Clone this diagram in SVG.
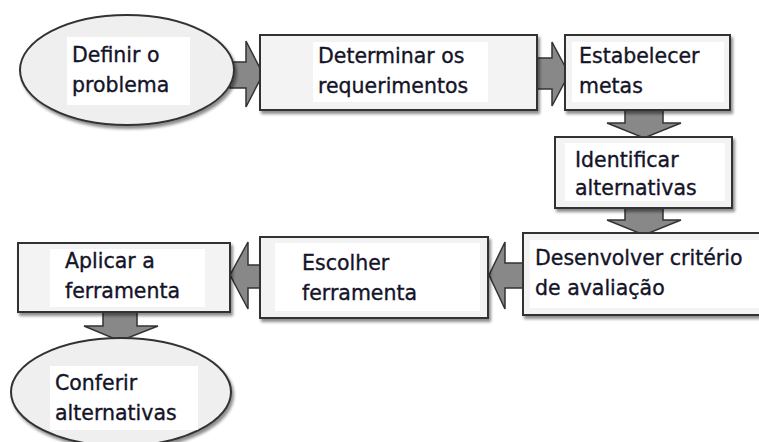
<svg xmlns="http://www.w3.org/2000/svg" width="759" height="442" viewBox="0 0 759 442">
<defs>
<filter id="sh" x="-10%" y="-10%" width="130%" height="140%">
<feGaussianBlur in="SourceAlpha" stdDeviation="1.5"/>
<feOffset dx="2" dy="3" result="b"/>
<feComponentTransfer><feFuncA type="linear" slope="0.45"/></feComponentTransfer>
<feMerge><feMergeNode/><feMergeNode in="SourceGraphic"/></feMerge>
</filter>
</defs>
<style>
.box{fill:#f3f3f3;stroke:#333;stroke-width:2;filter:url(#sh)}
.ell{fill:#efefef;stroke:#333;stroke-width:2;filter:url(#sh)}
.hl{fill:#fff}
.arr{fill:#888;stroke:#333;stroke-width:1.5;stroke-linejoin:miter}
text{font-family:"DejaVu Sans",Verdana,sans-serif;font-size:20.5px;fill:#141428;stroke:#141428;stroke-width:0.35}
</style>
<rect width="759" height="442" fill="#fff"/>
<g id="connectors">
<polygon class="arr" points="230,62 246,62 246,41 263,74 246,107 246,88 230,88"/>
<polygon class="arr" points="537,58 552,58 552,42 569,74 552,106 552,89 537,89"/>
<polygon class="arr" points="625,110 663,110 663,123 681,123 644,138 607,123 625,123"/>
<polygon class="arr" points="625,208 663,208 663,220 681,220 644,235 607,220 625,220"/>
<polygon class="arr" points="523,263 505,263 505,242 489,275 505,309 505,288 523,288"/>
<polygon class="arr" points="260,265 248,265 248,242 230,275 248,309 248,288 260,288"/>
<polygon class="arr" points="103,312 137,312 137,326 158,326 120,341 84,326 103,326"/>
</g>
<g id="n1">
<ellipse class="ell" cx="127" cy="70" rx="107" ry="55"/>
<rect class="hl" x="67" y="37" width="123" height="68"/>
<text x="72" y="62">Definir o</text>
<text x="72" y="92">problema</text>
</g>
<g id="n2">
<rect class="box" x="260" y="35" width="277" height="75"/>
<rect class="hl" x="313" y="42" width="175" height="60"/>
<text x="318" y="63">Determinar os</text>
<text x="318" y="93">requerimentos</text>
</g>
<g id="n3">
<rect class="box" x="565" y="35" width="165" height="75"/>
<rect class="hl" x="572" y="42" width="152" height="60"/>
<text x="579" y="63">Estabelecer</text>
<text x="579" y="93">metas</text>
</g>
<g id="n4">
<rect class="box" x="555" y="137" width="177" height="71"/>
<rect class="hl" x="565" y="143" width="160" height="58"/>
<text x="575" y="167">Identificar</text>
<text x="575" y="195">alternativas</text>
</g>
<g id="n5">
<rect class="box" x="523" y="233" width="240" height="82"/>
<rect class="hl" x="530" y="240" width="229" height="68"/>
<text x="535" y="265">Desenvolver critério</text>
<text x="535" y="295">de avaliação</text>
</g>
<g id="n6">
<rect class="box" x="260" y="237" width="228" height="81"/>
<rect class="hl" x="275" y="243" width="205" height="68"/>
<text x="302" y="270">Escolher</text>
<text x="302" y="300">ferramenta</text>
</g>
<g id="n7">
<rect class="box" x="18" y="243" width="212" height="69"/>
<rect class="hl" x="50" y="249" width="155" height="58"/>
<text x="65" y="268">Aplicar a</text>
<text x="65" y="298">ferramenta</text>
</g>
<g id="n8">
<ellipse class="ell" cx="121" cy="392" rx="110" ry="54"/>
<rect class="hl" x="50" y="366" width="148" height="64"/>
<text x="55" y="390">Conferir</text>
<text x="55" y="420">alternativas</text>
</g>
</svg>
